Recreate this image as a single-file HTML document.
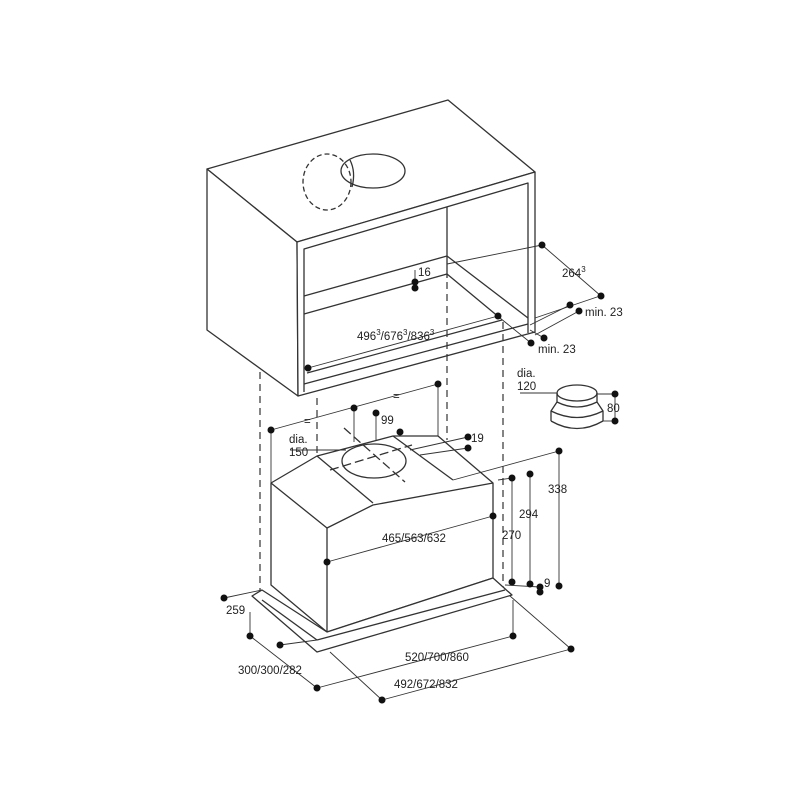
<!DOCTYPE html>
<html><head><meta charset="utf-8"><style>
html,body{margin:0;padding:0;background:#fff}
svg{display:block}
text{font-family:"Liberation Sans",sans-serif;font-size:11.5px;fill:#222}
</style></head><body>
<svg width="800" height="800" viewBox="0 0 800 800" xmlns="http://www.w3.org/2000/svg">
<g fill="none" stroke="#333" stroke-width="1.3" stroke-linejoin="round">
<!-- cabinet -->
<polygon points="207,169 448,100 535,172 297,242" fill="#fff"/>
<polygon points="207,169 297,242 298,396 207,330" fill="#fff"/>
<polygon points="297,242 535,172 535,332 298,396" fill="#fff"/>
<polyline points="304,392 304,249 528,183 528,333"/>
<line x1="447" y1="207" x2="447" y2="278"/>
<polyline points="304,296 447,256 528,318"/>
<polyline points="304,314 447,274 500,318"/>
<line x1="307" y1="373" x2="502" y2="320"/>
<line x1="304" y1="384" x2="528" y2="324"/>
<ellipse cx="373" cy="171" rx="32" ry="17" fill="#fff"/>
<path d="M350,160 Q356,172 352,187" />
<ellipse cx="327" cy="182" rx="24" ry="28" stroke-dasharray="5,3"/>
<!-- dashed verticals -->
<g stroke-dasharray="7,5" stroke-width="1.2">
<line x1="260" y1="372" x2="260" y2="590"/>
<line x1="317" y1="398" x2="317" y2="640"/>
<line x1="447" y1="282" x2="447" y2="440"/>
<line x1="503" y1="322" x2="503" y2="590"/>
</g>
<!-- hood -->
<polygon points="271,483 317,456 393,436 438,436 493,483 493,578 327,632 271,585" fill="#fff"/>
<polyline points="271,483 327,528 373,505 493,483"/>
<line x1="327" y1="528" x2="327" y2="632"/>
<line x1="317" y1="456" x2="373" y2="503"/>
<line x1="393" y1="436" x2="453" y2="480"/>
<ellipse cx="374" cy="461" rx="32" ry="17" fill="#fff"/>
<g stroke-dasharray="9,4"><line x1="344" y1="428" x2="405" y2="482"/><line x1="330" y1="470" x2="412" y2="445"/></g>
<!-- base flange -->
<polygon points="252,596 262,590 327,632 493,578 512,595 317,652" fill="#fff"/>
<line x1="262" y1="600" x2="317" y2="640"/>
<line x1="317" y1="640" x2="505" y2="590"/>
<!-- collar -->
<ellipse cx="577" cy="393" rx="20" ry="8" fill="#fff"/>
<path d="M557,393 L557,402 L551,411 L551,421 M597,393 L597,402 L603,411 L603,421"/>
<path d="M557,402 Q577,412 597,402"/>
<path d="M551,421 Q577,436 603,421"/>
<path d="M551,411 Q577,424 603,411"/>
</g>
<!-- dimension lines -->
<g stroke="#333" stroke-width="0.9" fill="none">
<line x1="447" y1="264" x2="542" y2="245"/><line x1="542" y1="245" x2="601" y2="296"/>
<line x1="530" y1="325" x2="570" y2="305"/><line x1="535" y1="335" x2="579" y2="311"/>
<line x1="600" y1="296" x2="535" y2="318"/>
<line x1="500" y1="318" x2="531" y2="343"/><line x1="530" y1="330" x2="544" y2="338"/>
<line x1="308" y1="368" x2="498" y2="316"/>
<line x1="415" y1="270" x2="415" y2="289"/>
<line x1="520" y1="393" x2="557" y2="393"/>
<line x1="597" y1="394" x2="615" y2="394"/><line x1="603" y1="421" x2="615" y2="421"/><line x1="615" y1="394" x2="615" y2="421"/>
<line x1="271" y1="430" x2="438" y2="384"/>
<line x1="271" y1="430" x2="271" y2="483"/>
<line x1="438" y1="384" x2="438" y2="436"/>
<line x1="354" y1="408" x2="354" y2="442"/>
<line x1="376" y1="413" x2="376" y2="440"/>
<line x1="400" y1="432" x2="400" y2="436"/>
<line x1="290" y1="450" x2="346" y2="450"/>
<line x1="410" y1="450" x2="468" y2="437"/><line x1="420" y1="455" x2="468" y2="448"/>
<line x1="453" y1="480" x2="559" y2="451"/><line x1="559" y1="451" x2="559" y2="586"/>
<line x1="498" y1="480" x2="512" y2="478"/><line x1="512" y1="478" x2="512" y2="582"/>
<line x1="530" y1="474" x2="530" y2="584"/>
<line x1="327" y1="562" x2="493" y2="516"/>
<line x1="505" y1="585" x2="540" y2="587"/>
<line x1="224" y1="598" x2="262" y2="590"/>
<line x1="250" y1="612" x2="250" y2="636"/><line x1="250" y1="636" x2="317" y2="688"/>
<line x1="280" y1="645" x2="317" y2="640"/>
<line x1="317" y1="688" x2="513" y2="636"/><line x1="513" y1="600" x2="513" y2="636"/>
<line x1="330" y1="652" x2="382" y2="700"/><line x1="382" y1="700" x2="571" y2="649"/>
<line x1="510" y1="596" x2="571" y2="649"/>
</g>
<g fill="#111">
<circle cx="542" cy="245" r="3.5"/><circle cx="601" cy="296" r="3.5"/>
<circle cx="570" cy="305" r="3.5"/><circle cx="579" cy="311" r="3.5"/>
<circle cx="531" cy="343" r="3.5"/><circle cx="544" cy="338" r="3.5"/>
<circle cx="415" cy="282" r="3.5"/><circle cx="415" cy="288" r="3.5"/>
<circle cx="498" cy="316" r="3.5"/><circle cx="308" cy="368" r="3.5"/>
<circle cx="615" cy="394" r="3.5"/><circle cx="615" cy="421" r="3.5"/>
<circle cx="438" cy="384" r="3.5"/><circle cx="354" cy="408" r="3.5"/><circle cx="376" cy="413" r="3.5"/>
<circle cx="400" cy="432" r="3.5"/><circle cx="271" cy="430" r="3.5"/>
<circle cx="468" cy="437" r="3.5"/><circle cx="468" cy="448" r="3.5"/>
<circle cx="559" cy="451" r="3.5"/><circle cx="559" cy="586" r="3.5"/>
<circle cx="512" cy="478" r="3.5"/><circle cx="512" cy="582" r="3.5"/>
<circle cx="530" cy="474" r="3.5"/><circle cx="530" cy="584" r="3.5"/>
<circle cx="540" cy="587" r="3.5"/><circle cx="540" cy="592" r="3.5"/>
<circle cx="493" cy="516" r="3.5"/><circle cx="327" cy="562" r="3.5"/>
<circle cx="224" cy="598" r="3.5"/><circle cx="250" cy="636" r="3.5"/>
<circle cx="280" cy="645" r="3.5"/><circle cx="317" cy="688" r="3.5"/>
<circle cx="513" cy="636" r="3.5"/><circle cx="382" cy="700" r="3.5"/><circle cx="571" cy="649" r="3.5"/>
</g>
<g>
<text x="418" y="276">16</text>
<text x="562" y="277">264<tspan dy="-5" font-size="8">3</tspan></text>
<text x="585" y="316">min. 23</text>
<text x="538" y="353">min. 23</text>
<text x="357" y="340">496<tspan dy="-5" font-size="8">3</tspan><tspan dy="5">/676</tspan><tspan dy="-5" font-size="8">3</tspan><tspan dy="5">/836</tspan><tspan dy="-5" font-size="8">3</tspan></text>
<text x="517" y="377">dia.</text><text x="517" y="390">120</text>
<text x="607" y="412">80</text>
<text x="304" y="425">=</text><text x="393" y="400">=</text>
<text x="381" y="424">99</text>
<text x="471" y="442">19</text>
<text x="289" y="443">dia.</text><text x="289" y="456">150</text>
<text x="548" y="493">338</text>
<text x="519" y="518">294</text>
<text x="502" y="539">270</text>
<text x="382" y="542">465/563/632</text>
<text x="544" y="587">9</text>
<text x="226" y="614">259</text>
<text x="238" y="674">300/300/282</text>
<text x="405" y="661">520/700/860</text>
<text x="394" y="688">492/672/832</text>
</g>
</svg>
</body></html>
